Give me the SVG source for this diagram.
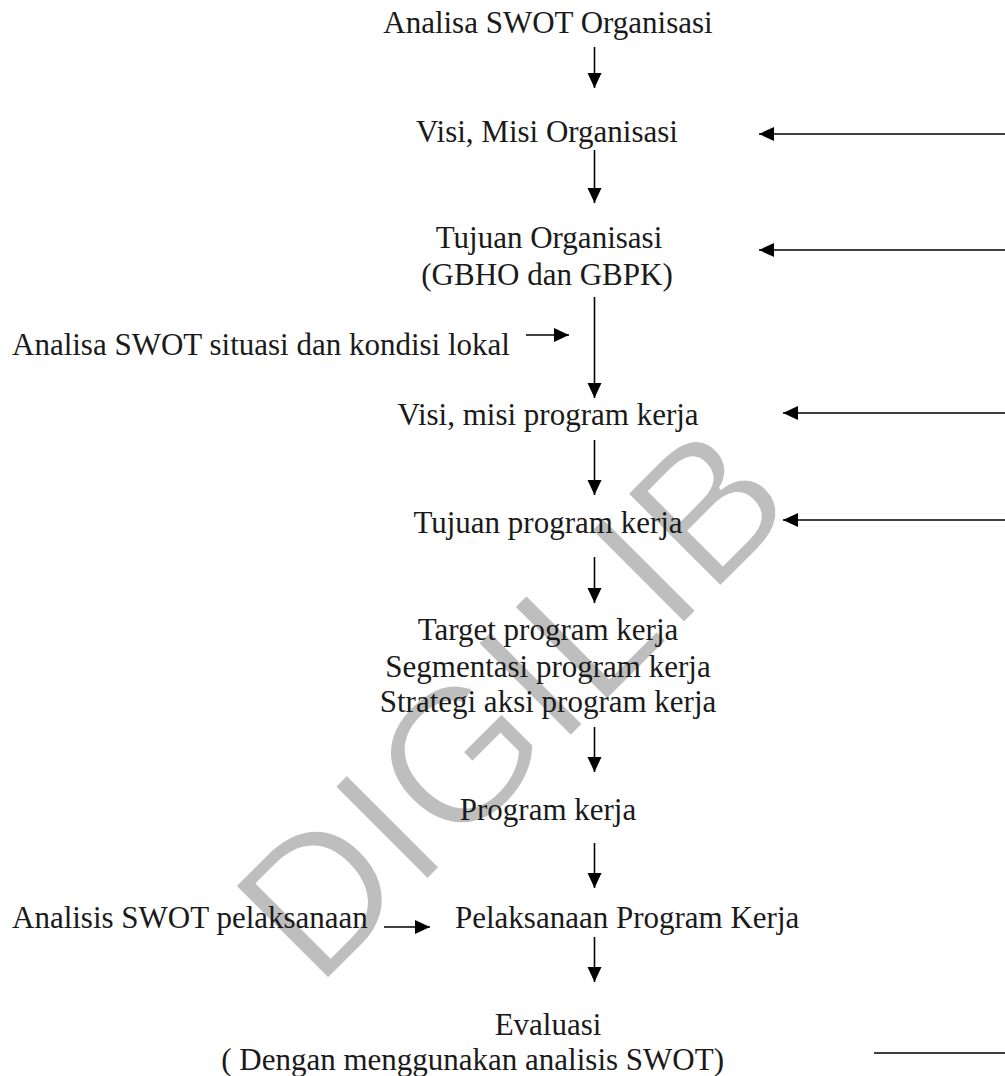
<svg xmlns="http://www.w3.org/2000/svg" width="1005" height="1076" viewBox="0 0 1005 1076">
<defs>
<style>
.t{font-family:"Liberation Serif","Times New Roman",serif;font-size:31px;fill:#1a1a1a;text-anchor:middle}
.tl{font-family:"Liberation Serif","Times New Roman",serif;font-size:31px;fill:#1a1a1a;text-anchor:start}
.te{font-family:"Liberation Serif","Times New Roman",serif;font-size:31px;fill:#1a1a1a;text-anchor:end}
.c{stroke:#000;stroke-width:1.6;fill:none}
.wm{font-family:"Liberation Sans",Arial,sans-serif;font-size:192px;fill:#bebebe;stroke:#fff;stroke-width:3}
</style>
<marker id="ah" markerUnits="userSpaceOnUse" markerWidth="16" markerHeight="16" refX="15" refY="7.5" orient="auto">
<path d="M0,0.5 L15,7.5 L0,14.5 Z" fill="#000"/>
</marker>
</defs>
<rect width="1005" height="1076" fill="#fff"/>
<text class="wm" transform="translate(317,990.5) rotate(-45)">DIGILIB</text>
<g id="connectors">
<line class="c" x1="594.5" y1="47" x2="594.5" y2="88" marker-end="url(#ah)"/>
<line class="c" x1="1005" y1="134" x2="759" y2="134" marker-end="url(#ah)"/>
<line class="c" x1="594.5" y1="150" x2="594.5" y2="203" marker-end="url(#ah)"/>
<line class="c" x1="1005" y1="250" x2="759" y2="250" marker-end="url(#ah)"/>
<line class="c" x1="594.5" y1="297" x2="594.5" y2="398" marker-end="url(#ah)"/>
<line class="c" x1="526" y1="335" x2="569" y2="335" marker-end="url(#ah)"/>
<line class="c" x1="1005" y1="413" x2="783" y2="413" marker-end="url(#ah)"/>
<line class="c" x1="594.5" y1="440" x2="594.5" y2="495" marker-end="url(#ah)"/>
<line class="c" x1="1005" y1="520" x2="783" y2="520" marker-end="url(#ah)"/>
<line class="c" x1="594.5" y1="557" x2="594.5" y2="603" marker-end="url(#ah)"/>
<line class="c" x1="594.5" y1="727" x2="594.5" y2="772" marker-end="url(#ah)"/>
<line class="c" x1="594.5" y1="843" x2="594.5" y2="888" marker-end="url(#ah)"/>
<line class="c" x1="384" y1="927" x2="430" y2="927" marker-end="url(#ah)"/>
<line class="c" x1="594.5" y1="937" x2="594.5" y2="982" marker-end="url(#ah)"/>
<line class="c" x1="874" y1="1053" x2="1005" y2="1053"/>
</g>
<g id="n1"><text class="t" x="548" y="33">Analisa SWOT Organisasi</text></g>
<g id="n2"><text class="t" x="547" y="142">Visi, Misi Organisasi</text></g>
<g id="n3"><text class="t" x="549" y="248">Tujuan Organisasi</text><text class="t" x="547" y="285">(GBHO dan GBPK)</text></g>
<g id="n4"><text class="tl" x="12" y="355">Analisa SWOT situasi dan kondisi lokal</text></g>
<g id="n5"><text class="t" x="548" y="425">Visi, misi program kerja</text></g>
<g id="n6"><text class="t" x="548" y="533">Tujuan program kerja</text></g>
<g id="n7"><text class="t" x="548" y="640">Target program kerja</text><text class="t" x="548" y="677">Segmentasi program kerja</text><text class="t" x="548" y="712">Strategi aksi program kerja</text></g>
<g id="n8"><text class="t" x="548" y="820">Program kerja</text></g>
<g id="n9"><text class="tl" x="12" y="928">Analisis SWOT pelaksanaan</text></g>
<g id="n10"><text class="tl" x="455" y="928">Pelaksanaan Program Kerja</text></g>
<g id="n11"><text class="t" x="548" y="1035">Evaluasi</text><text class="te" x="724" y="1070">( Dengan menggunakan analisis SWOT)</text></g>
</svg>
